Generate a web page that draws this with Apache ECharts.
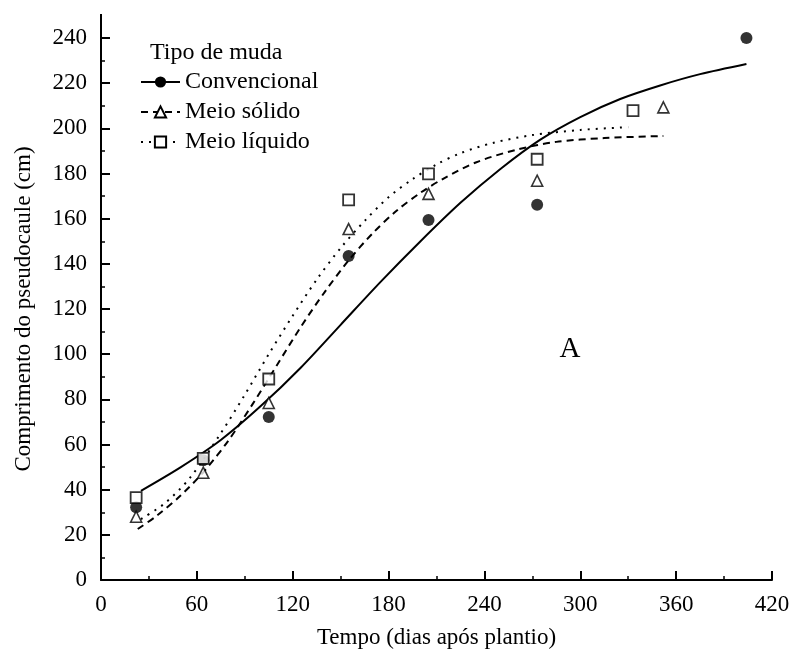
<!DOCTYPE html>
<html><head><meta charset="utf-8">
<script src="https://cdn.jsdelivr.net/npm/echarts@6/dist/echarts.min.js"></script>
<style>html,body{margin:0;padding:0;background:#fff}#c{width:793px;height:663px}</style>
</head><body><div id="c"></div>
<script>
const FONT = "'Liberation Serif','Times New Roman',serif";
// tick labels
const xTickValues = [0, 60, 120, 180, 240, 300, 360, 420];
const yTickValues = [0, 20, 40, 60, 80, 100, 120, 140, 160, 180, 200, 220, 240];
// series names
const seriesNames = ['Convencional', 'Meio sólido', 'Meio líquido'];
// observed points
const convDays = [22, 64, 105, 155, 205, 273, 404];
const convVals = [32.2, 53, 72.2, 143.5, 159.4, 166.2, 240];
const solDays = [22, 64, 105, 155, 205, 273, 352];
const solVals = [28, 47.5, 78.4, 155.4, 171, 176.8, 209.3];
const liqDays = [22, 64, 105, 155, 205, 273, 333];
const liqVals = [36.5, 53.9, 89, 168.3, 179.8, 186.3, 207.8];
// fitted curves
const convCurveX = [25, 50, 75, 100, 125, 150, 175, 200, 225, 250, 275, 300, 325, 350, 375, 404];
const convCurveY = [39.5, 50, 62, 77, 94, 113, 132, 150, 167, 182, 195, 205, 213, 219, 224, 228.5];
const solCurveX = [23, 35, 50, 65, 80, 95, 110, 125, 140, 155, 170, 185, 200, 215, 235, 260, 285, 315, 352];
const solCurveY = [22.6, 28.5, 37.5, 48.5, 62, 78, 95, 112, 127.5, 141.5, 153.5, 163.5, 171.5, 178, 185, 190.5, 194, 195.7, 196.6];
const liqCurveX = [25, 40, 56, 75, 90, 105, 120, 135, 150, 165, 180, 195, 210, 225, 245, 270, 300, 330];
const liqCurveY = [27, 34, 45.5, 65, 82, 100, 117, 133, 147, 159, 169.5, 177.5, 184, 189, 193.5, 197, 199.3, 200.5];

const zip = (a, b) => a.map((v, i) => [v, b[i]]);
const chart = echarts.init(document.getElementById('c'), null, {renderer: 'canvas'});

const markerStyles = [
  {symbol: 'circle', itemStyle: {color: '#000', borderColor: '#000', borderWidth: 0}},
  {symbol: 'triangle', itemStyle: {color: '#fff', borderColor: '#000', borderWidth: 1.6}},
  {symbol: 'rect', itemStyle: {color: '#fff', borderColor: '#000', borderWidth: 1.8}}
];
const lineTypes = ['solid', [7, 5], [2, 6]];
const curves = [zip(convCurveX, convCurveY), zip(solCurveX, solCurveY), zip(liqCurveX, liqCurveY)];
const points = [zip(convDays, convVals), zip(solDays, solVals), zip(liqDays, liqVals)];

const series = [];
seriesNames.forEach((name, i) => {
  series.push({
    name, type: 'line', data: curves[i], smooth: 0.3, showSymbol: false,
    symbol: markerStyles[i].symbol, symbolSize: 11,
    itemStyle: markerStyles[i].itemStyle,
    lineStyle: {color: '#000', width: 2, type: lineTypes[i]},
    z: 2, silent: true
  });
});
seriesNames.forEach((name, i) => {
  series.push({
    name, type: 'scatter', data: points[i],
    symbol: markerStyles[i].symbol, symbolSize: i === 0 ? 12 : 11,
    itemStyle: markerStyles[i].itemStyle, z: 3
  });
});

const axisCommon = {
  axisLine: {show: true, lineStyle: {color: '#000', width: 2}},
  axisTick: {show: true, inside: true, length: 9, lineStyle: {color: '#000', width: 2}},
  minorTick: {show: true, splitNumber: 2, length: 4, lineStyle: {color: '#000', width: 1.5}},
  splitLine: {show: false},
  axisLabel: {color: '#000', fontFamily: FONT, fontSize: 23},
  nameTextStyle: {color: '#000', fontFamily: FONT, fontSize: 23},
  nameLocation: 'middle'
};

chart.setOption({
  animation: false,
  backgroundColor: '#fff',
  grid: {left: 101, right: 21, top: 38, bottom: 83},
  xAxis: Object.assign({}, axisCommon, {
    type: 'value', min: xTickValues[0], max: xTickValues[xTickValues.length - 1],
    interval: xTickValues[1] - xTickValues[0],
    name: 'Tempo (dias após plantio)', nameGap: 46,
    axisLabel: Object.assign({}, axisCommon.axisLabel, {margin: 13})
  }),
  yAxis: Object.assign({}, axisCommon, {
    type: 'value', min: yTickValues[0], max: yTickValues[yTickValues.length - 1],
    interval: yTickValues[1] - yTickValues[0],
    name: 'Comprimento do pseudocaule (cm)', nameGap: 66,
    axisLabel: Object.assign({}, axisCommon.axisLabel, {margin: 14})
  }),
  legend: {
    data: seriesNames, orient: 'vertical', left: 140, top: 70, padding: 0,
    itemWidth: 39, itemHeight: 14, itemGap: 6,
    selectedMode: false,
    textStyle: {color: '#000', fontFamily: FONT, fontSize: 24, lineHeight: 24}
  },
  series
});

const top240 = chart.convertToPixel({gridIndex: 0}, [0, yTickValues[yTickValues.length - 1]]);
chart.setOption({
  graphic: [
    {type: 'line', shape: {x1: top240[0], y1: top240[1] + 1, x2: top240[0], y2: top240[1] - 24},
     style: {stroke: '#000', lineWidth: 2}, z: 10},
    {type: 'text', x: 150, y: 53, style: {text: 'Tipo de muda', fill: '#000', font: '24px ' + FONT, textVerticalAlign: 'middle'}},
    {type: 'text', x: 570, y: 349, style: {text: 'A', fill: '#000', font: '29px ' + FONT, textAlign: 'center', textVerticalAlign: 'middle'}}
  ]
});
</script></body></html>
